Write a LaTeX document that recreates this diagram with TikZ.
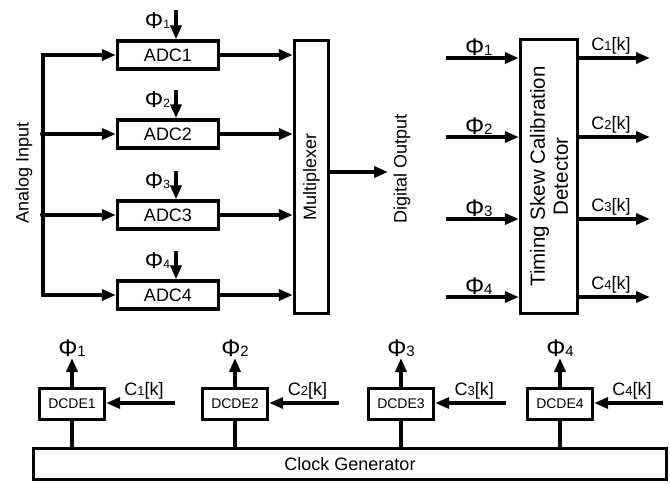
\documentclass[tikz,border=0pt]{standalone}
\usepackage{fontspec}
\setmainfont{Liberation Sans}
\usetikzlibrary{arrows.meta}

\newcommand{\phin}[1]{{\fontsize{24}{24}\selectfont Φ}{\fontsize{15}{15}\selectfont #1}}
\newcommand{\phis}[1]{{\fontsize{23}{23}\selectfont Φ}{\fontsize{12}{12}\selectfont #1}}
\newcommand{\ckn}[1]{C{\fontsize{13}{13}\selectfont #1}[k]}

\begin{document}
\begin{tikzpicture}[x=1pt, y=-1pt, >={Triangle[length=14pt,width=11pt]},
  every node/.style={font=\fontsize{18}{21}\selectfont},
  blk/.style={draw, line width=3.4pt, inner sep=0pt},
  adcbox/.style={blk, minimum width=101pt, minimum height=28pt},
  dcdebox/.style={blk, minimum width=65pt, minimum height=31pt,
    font=\fontsize{14}{16}\selectfont},
  wire/.style={line width=3.4pt},
  sig/.style={wire, ->}]
\useasboundingbox (0,0) rectangle (670,483);
% ---- ADC bank ----
\node[adcbox] (adc1) at (168,55)  {ADC1};
\node[adcbox] (adc2) at (168,134) {ADC2};
\node[adcbox] (adc3) at (168,215) {ADC3};
\node[adcbox] (adc4) at (168,295) {ADC4};
\node[blk, minimum width=34pt, minimum height=273pt] (mux) at (311.5,177) {};
\node[rotate=90] at (mux) {Multiplexer};
% ---- analog input bus ----
\coordinate (bus) at (43,0);
\node[rotate=90] (ain) at (24,173) {Analog Input};
\draw[wire, line cap=rect] (bus |- adc1) -- (bus |- adc4);
\fill (bus |- adc2) circle (3pt);
\fill (bus |- adc3) circle (3pt);
\draw[sig] (bus |- adc1) -- (adc1);
\draw[sig] (bus |- adc2) -- (adc2);
\draw[sig] (bus |- adc3) -- (adc3);
\draw[sig] (bus |- adc4) -- (adc4);
% ---- sampling phases ----
\coordinate (phA1) at (176,10);
\coordinate (phA2) at (176,90);
\coordinate (phA3) at (176,171);
\coordinate (phA4) at (176,251);
\draw[sig] (phA1) -- node[pos=0.35, left=1pt] {\phis{1}} (phA1 |- adc1.north);
\draw[sig] (phA2) -- node[pos=0.35, left=1pt] {\phis{2}} (phA2 |- adc2.north);
\draw[sig] (phA3) -- node[pos=0.35, left=1pt] {\phis{3}} (phA3 |- adc3.north);
\draw[sig] (phA4) -- node[pos=0.35, left=1pt] {\phis{4}} (phA4 |- adc4.north);
% ---- to the multiplexer ----
\draw[sig] (adc1) -- (adc1 -| mux.west);
\draw[sig] (adc2) -- (adc2 -| mux.west);
\draw[sig] (adc3) -- (adc3 -| mux.west);
\draw[sig] (adc4) -- (adc4 -| mux.west);
\coordinate (dout) at (388,172);
\draw[sig] (mux.east |- dout) -- (dout);
\node[rotate=90] (dlab) at (402,169) {Digital Output};
% ---- timing skew calibration detector ----
\node[blk, minimum width=57pt, minimum height=274pt] (tscd) at (549,176.5) {};
\node[rotate=90, align=center, font=\fontsize{20.5}{23}\selectfont] at (tscd)
  {Timing Skew Calibration\\Detector};
\coordinate (ti1) at (446,58);
\coordinate (ti2) at (446,137);
\coordinate (ti3) at (446,219);
\coordinate (ti4) at (446,297);
\draw[sig] (ti1) -- node[pos=0.45, above=-3pt] {\phin{1}} (ti1 -| tscd.west);
\draw[sig] (ti2) -- node[pos=0.45, above=-3pt] {\phin{2}} (ti2 -| tscd.west);
\draw[sig] (ti3) -- node[pos=0.45, above=-3pt] {\phin{3}} (ti3 -| tscd.west);
\draw[sig] (ti4) -- node[pos=0.45, above=-3pt] {\phin{4}} (ti4 -| tscd.west);
\coordinate (to1) at (650,58);
\coordinate (to2) at (650,137);
\coordinate (to3) at (650,219);
\coordinate (to4) at (650,297);
\draw[sig] (to1 -| tscd.east) -- node[pos=0.45, above=-1pt] {\ckn{1}} (to1);
\draw[sig] (to2 -| tscd.east) -- node[pos=0.45, above=-1pt] {\ckn{2}} (to2);
\draw[sig] (to3 -| tscd.east) -- node[pos=0.45, above=-1pt] {\ckn{3}} (to3);
\draw[sig] (to4 -| tscd.east) -- node[pos=0.45, above=-1pt] {\ckn{4}} (to4);
% ---- clock generator and delay elements ----
\node[blk, minimum width=633pt, minimum height=31pt] (clk) at (350,464) {Clock Generator};
\node[dcdebox] (d1) at (72,404)  {DCDE1};
\node[dcdebox] (d2) at (235,404) {DCDE2};
\node[dcdebox] (d3) at (401,404) {DCDE3};
\node[dcdebox] (d4) at (560,404) {DCDE4};
\draw[wire] (d1) -- (d1 |- clk.north);
\draw[wire] (d2) -- (d2 |- clk.north);
\draw[wire] (d3) -- (d3 |- clk.north);
\draw[wire] (d4) -- (d4 |- clk.north);
\coordinate (q1) at (72,358);
\coordinate (q2) at (235,358);
\coordinate (q3) at (401,358);
\coordinate (q4) at (560,358);
\draw[sig] (d1) -- (q1) node[above=-4pt] {\phin{1}};
\draw[sig] (d2) -- (q2) node[above=-4pt] {\phin{2}};
\draw[sig] (d3) -- (q3) node[above=-4pt] {\phin{3}};
\draw[sig] (d4) -- (q4) node[above=-4pt] {\phin{4}};
\coordinate (c1) at (175,403);
\coordinate (c2) at (339,403);
\coordinate (c3) at (506,403);
\coordinate (c4) at (663,403);
\draw[sig] (c1) -- node[pos=0.45, above=-1pt] {\ckn{1}} (c1 -| d1.east);
\draw[sig] (c2) -- node[pos=0.45, above=-1pt] {\ckn{2}} (c2 -| d2.east);
\draw[sig] (c3) -- node[pos=0.45, above=-1pt] {\ckn{3}} (c3 -| d3.east);
\draw[sig] (c4) -- node[pos=0.45, above=-1pt] {\ckn{4}} (c4 -| d4.east);
\end{tikzpicture}
\end{document}
